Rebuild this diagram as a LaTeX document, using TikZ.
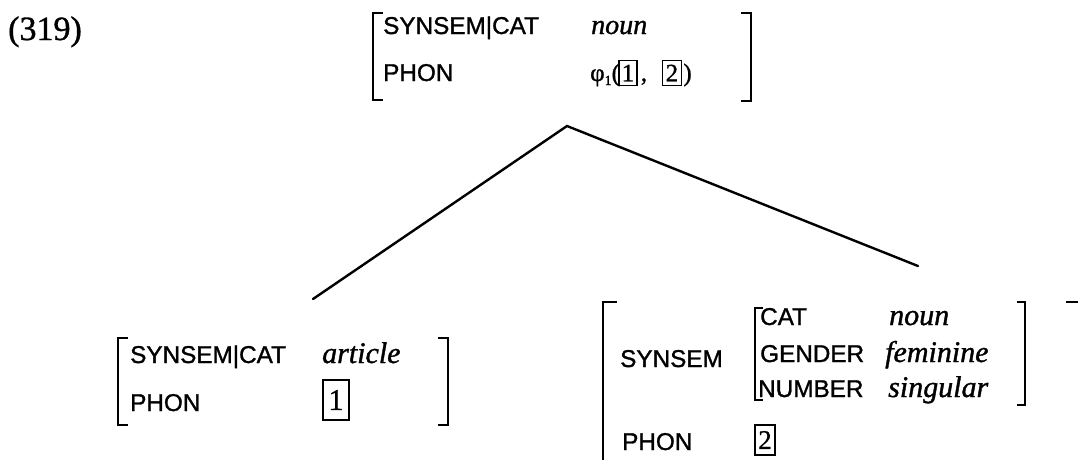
\documentclass[tikz,border=0pt]{standalone}
\usepackage{fontspec}
\setmainfont{Liberation Serif}
\newfontfamily\labfont[FakeBold=1.2]{Liberation Sans}
\newfontfamily\valfont[FakeBold=1.2]{Liberation Serif}
\newfontfamily\numfont[FakeBold=1]{Liberation Serif}
\tikzset{
  lab/.style={anchor=base west, inner sep=0pt, font=\labfont\fontsize{24.3}{28}\selectfont},
  val/.style={anchor=base west, inner sep=0pt, font=\valfont\itshape\fontsize{30}{36}\selectfont},
  plain/.style={anchor=base west, inner sep=0pt, font=\numfont\fontsize{25}{28}\selectfont},
  tagbox/.style={draw, line width=1.5pt, inner sep=0pt, font=\numfont\fontsize{25}{28}\selectfont},
  brk/.style={line width=1.9pt},
  branch/.style={line width=2.4pt, line cap=round},
}
\begin{document}
\begin{tikzpicture}[x=1pt,y=-1pt]
\useasboundingbox (0,0) rectangle (1078,459);
\clip (0,0) rectangle (1078,459);

% example number
\node[anchor=base west, inner sep=0pt, font=\numfont\fontsize{34}{40}\selectfont] (num) at (8,40) {(319)};

% mother AVM
\draw[brk] (383,13) -- (373,13) -- (373,100) -- (383,100);
\draw[brk] (741,13) -- (751,13) -- (751,101) -- (741,101);
\node[lab] (m1) at (383,34) {SYNSEM|CAT};
\node[val, font=\valfont\itshape\fontsize{28}{32}\selectfont] (mv1) at (591,34) {noun};
\node[lab] (m2) at (383,81) {PHON};
\node[plain] (phi) at (590,81) {φ\raisebox{-4pt}{\fontsize{14}{16}\selectfont 1}(};
\node[tagbox, minimum width=18pt, minimum height=25pt, anchor=west] (mt1) at ([xshift=-2pt,yshift=8pt]phi.base east) {1};
\node[plain, anchor=base west] (comma) at ([xshift=3pt]mt1.east |- phi.base) {,};
\node[tagbox, minimum width=19pt, minimum height=25pt, anchor=west] (mt2) at ([xshift=24pt]mt1.east) {2};
\node[plain, anchor=base west] (rpar) at ([xshift=1pt]mt2.east |- phi.base) {)};

% branches
\coordinate (apex) at (567,126);
\coordinate (lend) at (313,299);
\coordinate (rend) at (918,266);
\draw[branch] (lend) -- (apex) -- (rend);

% left daughter
\draw[brk] (128,338) -- (118,338) -- (118,425) -- (128,425);
\draw[brk] (438,338) -- (448,338) -- (448,425) -- (438,425);
\node[lab] (l1) at (130,363) {SYNSEM|CAT};
\node[val] (lv1) at (322,363) {article};
\node[lab] (l2) at (130,411) {PHON};
\node[tagbox, minimum width=26pt, minimum height=40pt, font=\numfont\fontsize{30}{32}\selectfont] (lt1) at (336,400) {1};

% right daughter
\draw[brk] (617,302) -- (603,302) -- (603,470);
\draw[brk] (1066,302) -- (1080,302) -- (1080,470);
\node[lab] (r1) at (620,367) {SYNSEM};
\draw[brk] (763,308) -- (755,308) -- (755,400) -- (763,400);
\draw[brk] (1017,302) -- (1025,302) -- (1025,405) -- (1017,405);
\node[lab] (c1) at (760,325) {CAT};
\node[lab] (c2) at (760,362) {GENDER};
\node[lab] (c3) at (758,397) {NUMBER};
\node[val] (cv1) at (889,325) {noun};
\node[val] (cv2) at (885,362) {feminine};
\node[val] (cv3) at (888,397) {singular};
\node[lab] (r2) at (622,450) {PHON};
\node[tagbox, minimum width=20pt, minimum height=30pt, font=\numfont\fontsize{27}{30}\selectfont] (rt2) at (765,440) {2};
\end{tikzpicture}
\end{document}
